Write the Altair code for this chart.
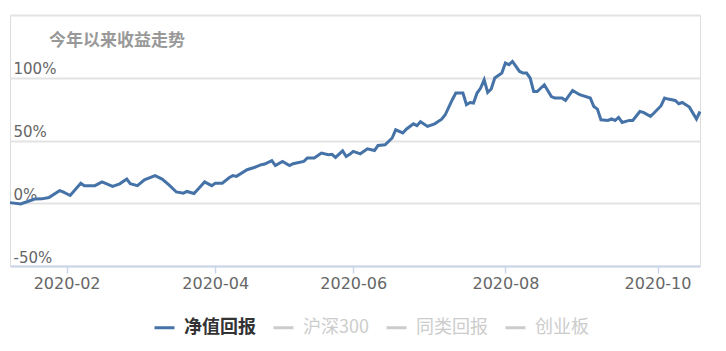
import altair as alt
import pandas as pd

# trading-day index (0 = first trading day of 2020) and cumulative return (%)
day_index = [0, 3, 5, 7, 9, 11, 14, 15, 17, 20, 21, 24, 26, 29, 31, 33, 34, 36, 38, 41,
             43, 45, 47, 49, 50, 52, 53, 55, 57, 58, 60, 62, 63, 64, 67, 69, 71, 72, 74, 75,
             77, 79, 80, 83, 84, 86, 88, 90, 91, 92, 94, 95, 96, 97, 99, 101, 103, 104, 106, 108,
             109, 111, 112, 114, 115, 116, 118, 120, 122, 123, 125, 126, 128, 129, 130, 131, 132, 133, 134, 135,
             136, 137, 139, 140, 141, 142, 144, 145, 146, 147, 148, 149, 151, 153, 154, 156, 157, 159, 161, 164,
             165, 166, 167, 169, 170, 171, 172, 173, 175, 176, 178, 179, 181, 182, 184, 185, 186, 188, 189, 190,
             192, 194, 195]
nav_return = [0.5, -0.5, 1.4, 3.3, 3.5, 4.6, 10, 9, 6.2, 16, 14, 14, 17, 13.4, 15.5, 19.3, 15.5, 14, 18.7, 22,
              19.3, 14.5, 9, 8, 9.4, 7.8, 10.8, 17, 14, 16, 16, 20.5, 22, 21.4, 26.7, 28.5, 30.7, 31.2, 34, 30,
              33.3, 30, 31.5, 33.3, 36, 36, 40, 38.6, 39, 36.5, 41.8, 37.3, 39, 41.3, 39.4, 43.4, 42, 46, 46.6, 52,
              58.5, 56, 59, 63.3, 61.8, 65, 61.2, 63.3, 67, 70.5, 82.5, 87.8, 87.8, 78.5, 80.3, 79.8, 87.8, 91.8, 98.4, 88.3,
              91, 99.8, 103.7, 111.7, 110.4, 113, 105, 103.7, 103.7, 99.8, 89, 89, 94.4, 85, 83.8, 83.8, 81.9, 89.9, 86.5, 83.8,
              77.1, 75, 66.5, 66, 67.3, 66, 68.4, 64.4, 66, 66, 73.1, 72.4, 69.2, 71.9, 77.7, 83.8, 83, 81.9, 79.3, 80.3,
              76.6, 67.1, 73.1]

series_names = ["净值回报", "沪深300", "同类回报", "创业板"]
series_colors = ["#4572A7", "#cccccc", "#cccccc", "#cccccc"]

tick_positions = [16, 58, 97, 140, 183]
tick_labels = ["2020-02", "2020-04", "2020-06", "2020-08", "2020-10"]
y_ticks = [-50, 0, 50, 100, 150]

df = pd.DataFrame({"idx": day_index, "ret": nav_return, "series": series_names[0]})

label_expr = "''"
for p, l in reversed(list(zip(tick_positions, tick_labels))):
    label_expr = f"datum.value == {p} ? '{l}' : ({label_expr})"

x_enc = alt.X(
    "idx:Q",
    scale=alt.Scale(domain=[0, 195], nice=False, zero=False),
    axis=alt.Axis(
        values=tick_positions, labelExpr=label_expr, title=None, grid=False,
        domainColor="#ccd6eb", domainWidth=2, tickColor="#ccd6eb", tickWidth=1.5, tickSize=7,
        labelColor="#666666", labelFontSize=16, labelFont="DejaVu Sans", labelPadding=2,
        labelFlush=False, labelOverlap=False,
    ),
)
y_enc = alt.Y(
    "ret:Q",
    scale=alt.Scale(domain=[-50, 150], nice=False, zero=False),
    axis=alt.Axis(
        values=y_ticks, title=None, domain=False, ticks=False, tickSize=0,
        labelExpr="datum.value == 150 ? '' : datum.value + '%'",
        labelAlign="left", labelBaseline="bottom", labelPadding=-3, labelOffset=-1,
        labelColor="#666666", labelFontSize=15, labelFont="DejaVu Sans",
        labelFlush=False, labelOverlap=False,
        gridColor="#e3e3e3", gridWidth=2,
    ),
)

chart = alt.Chart(df).mark_line(strokeWidth=3, interpolate="linear").encode(
    x=x_enc,
    y=y_enc,
    color=alt.Color(
        "series:N",
        scale=alt.Scale(domain=series_names, range=series_colors),
        legend=alt.Legend(
            title=None, orient="none", direction="horizontal", legendX=143, legendY=301,
            symbolType="stroke", symbolSize=400, symbolStrokeWidth=3,
            labelFont="Noto Sans CJK SC", labelFontSize=18,
            labelColor=alt.ExprRef("datum.label == '净值回报' ? '#333333' : '#cccccc'"),
            labelFontWeight=alt.ExprRef("datum.label == '净值回报' ? 'bold' : 'normal'"),
            columnPadding=11, labelOffset=8,
        ),
    ),
).properties(
    width=690,
    height=251,
    title=alt.TitleParams(
        "今年以来收益走势", anchor="start", dx=45, dy=33, offset=-18, baseline="top",
        font="Noto Sans CJK SC", fontSize=17, fontWeight="bold", color="#999999",
    ),
    autosize=alt.AutoSizeParams(type="none"),
    padding={"left": 10, "top": 15, "right": 26, "bottom": 85},
).configure_view(stroke=None).configure(background="white")

chart.save("out.html", embed_options={"renderer": "svg", "actions": False})
